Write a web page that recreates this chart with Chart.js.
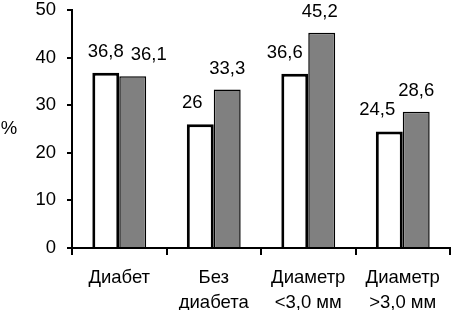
<!DOCTYPE html>
<html>
<head>
<meta charset="utf-8">
<script src="https://cdn.jsdelivr.net/npm/chart.js@4.4.0/dist/chart.umd.min.js"></script>
<style>
  html, body { margin: 0; padding: 0; background: #fff; }
  #wrap { width: 457px; height: 310px; }
</style>
</head>
<body>
<div id="wrap"><canvas id="chart"></canvas></div>
<script>
// categories and values
const categories = [['Диабет'], ['Без', 'диабета'], ['Диаметр', '<3,0 мм'], ['Диаметр', '>3,0 мм']];
const whiteValues = [36.8, 26, 36.6, 24.5];
const grayValues = [36.1, 33.3, 45.2, 28.6];
const yTicks = [0, 10, 20, 30, 40, 50];

// label nudges so the numbers don't collide (style only)
const labelShift = [[0, -8, -10, -12], [16, 0, -2, 0]];

const fontFamily = '"Liberation Sans", Arial, sans-serif';

const valueLabels = {
    id: 'valueLabels',
    afterDatasetsDraw(chart) {
        const ctx = chart.ctx;
        ctx.save();
        ctx.font = '18.5px ' + fontFamily;
        ctx.fillStyle = '#000';
        ctx.textAlign = 'center';
        ctx.textBaseline = 'middle';
        chart.data.datasets.forEach((ds, i) => {
            chart.getDatasetMeta(i).data.forEach((bar, j) => {
                const txt = String(ds.data[j]).replace('.', ',');
                ctx.fillText(txt, bar.x + labelShift[i][j], bar.y - 21);
            });
        });
        // "%" axis title, not rotated
        ctx.fillText('%', 9, 129);
        ctx.restore();
    }
};

new Chart(document.getElementById('chart'), {
    type: 'bar',
    data: {
        labels: categories,
        datasets: [
            {
                data: whiteValues,
                backgroundColor: '#ffffff',
                borderColor: '#000',
                borderWidth: 3,
                categoryPercentage: 0.57,
                barPercentage: 1.0
            },
            {
                data: grayValues,
                backgroundColor: '#808080',
                borderColor: '#000',
                borderWidth: 1.5,
                categoryPercentage: 0.57,
                barPercentage: 1.0
            }
        ]
    },
    options: {
        responsive: true,
        maintainAspectRatio: false,
        animation: false,
        layout: { padding: { top: 10, right: 7, left: 0, bottom: 0 } },
        plugins: {
            legend: { display: false },
            tooltip: { enabled: false }
        },
        scales: {
            x: {
                afterFit: (scale) => {
                    scale.height = 62;
                    scale.paddingLeft = 0;
                    scale.paddingRight = 0;
                },
                border: { color: '#000', width: 2 },
                grid: {
                    drawOnChartArea: false,
                    color: '#000',
                    lineWidth: 2,
                    tickLength: 7,
                    offset: true
                },
                ticks: {
                    color: '#000',
                    font: { family: fontFamily, size: 18.5, lineHeight: 1.37 },
                    padding: 10,
                    maxRotation: 0,
                    autoSkip: false
                }
            },
            y: {
                min: 0,
                max: 50,
                afterFit: (scale) => {
                    scale.width = 72;
                    scale.paddingTop = 0;
                    scale.paddingBottom = 0;
                },
                afterBuildTicks: (scale) => { scale.ticks = yTicks.map(v => ({ value: v })); },
                border: { color: '#000', width: 2 },
                grid: {
                    drawOnChartArea: false,
                    color: '#000',
                    lineWidth: 2,
                    tickLength: 5
                },
                ticks: {
                    color: '#000',
                    font: { family: fontFamily, size: 18.5 },
                    padding: 11
                }
            }
        }
    },
    plugins: [valueLabels]
});
</script>
</body>
</html>
